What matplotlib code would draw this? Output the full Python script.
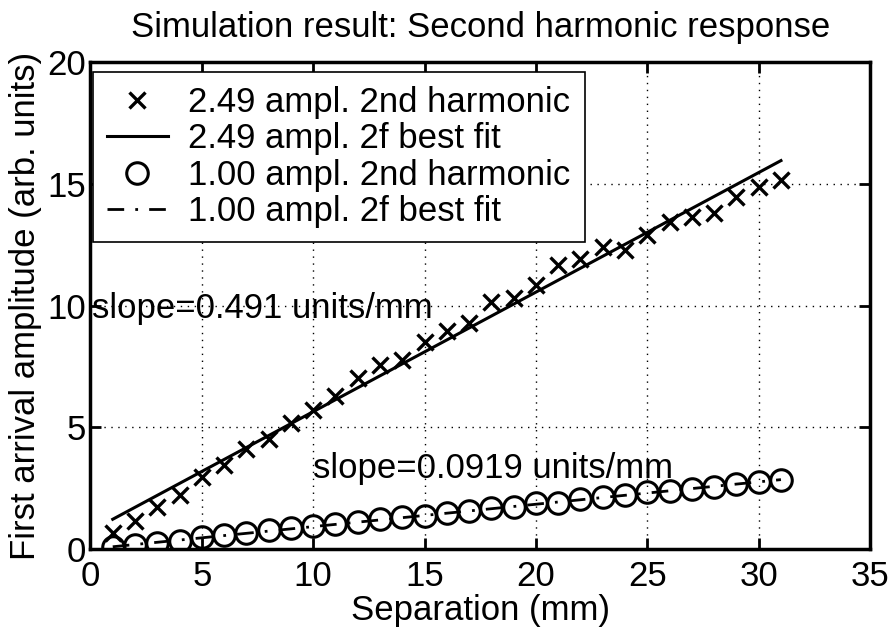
import numpy as np
import matplotlib.pyplot as plt

# separation (mm)
sep = np.arange(1, 32)

# 2.49 amplitude, second harmonic
amp_249 = [0.64, 1.16, 1.74, 2.22, 2.97, 3.45, 4.09, 4.50, 5.16, 5.71,
           6.30, 7.01, 7.56, 7.76, 8.51, 8.95, 9.30, 10.16, 10.30, 10.84,
           11.66, 11.90, 12.42, 12.28, 12.90, 13.44, 13.65, 13.79, 14.47, 14.85, 15.15]
# 1.00 amplitude, second harmonic
amp_100 = [0.09, 0.16, 0.23, 0.34, 0.51, 0.57, 0.67, 0.78, 0.85, 0.94,
           1.03, 1.12, 1.22, 1.30, 1.36, 1.47, 1.57, 1.67, 1.74, 1.88,
           1.90, 2.04, 2.15, 2.22, 2.35, 2.39, 2.45, 2.56, 2.67, 2.76, 2.83]

# best fit lines (slope, intercept)
fit_249 = (0.491, 0.73)
fit_100 = (0.0919, 0.0)
fit_x = np.array([1, 31])

plt.rcParams['font.family'] = ['Liberation Sans', 'DejaVu Sans']
fs = 25

fig = plt.figure(figsize=(8.93, 6.29), dpi=100)
ax = fig.add_axes([0.1013, 0.1272, 0.8730, 0.7742])

ax.plot(sep, amp_249, 'x', color='k', ms=11, mew=2.4, ls='none',
        label='2.49 ampl. 2nd harmonic')
ax.plot(fit_x, fit_249[0] * fit_x + fit_249[1], '-', color='k', lw=2.2,
        label='2.49 ampl. 2f best fit')
ax.plot(sep, amp_100, 'o', color='k', mfc='none', ms=15.5, mew=2.2, ls='none',
        label='1.00 ampl. 2nd harmonic')
ax.plot(fit_x, fit_100[0] * fit_x + fit_100[1], color='k', lw=2.0,
        ls=(0, (6, 4, 1, 4)), label='1.00 ampl. 2f best fit')

ax.text(0.05, 9.86, 'slope=0.491 units/mm', fontsize=fs, va='center', ha='left')
ax.text(10.0, 3.3, 'slope=0.0919 units/mm', fontsize=fs, va='center', ha='left')

ax.set_xlim(0, 35)
ax.set_ylim(0, 20)
ax.set_xticks(range(0, 36, 5))
ax.set_yticks(range(0, 21, 5))
ax.grid(True, color='k', ls=(0, (1, 4)), lw=1.0)
ax.tick_params(direction='in', length=8, width=2, top=True, right=True,
               labelsize=fs)
ax.tick_params(axis='x', pad=8)
ax.tick_params(axis='y', pad=3)
for s in ax.spines.values():
    s.set_linewidth(2.5)

ax.set_xlabel('Separation (mm)', fontsize=fs, labelpad=1)
ax.set_ylabel('First arrival amplitude (arb. units)', fontsize=fs, labelpad=4)
ax.set_title('Simulation result: Second harmonic response', fontsize=fs, pad=18)

leg = ax.legend(loc='upper left', bbox_to_anchor=(2.5 / 779.5, 1 - 10 / 487),
                borderaxespad=0, fontsize=fs, frameon=True, fancybox=False,
                edgecolor='k', framealpha=1, borderpad=0.4, labelspacing=0.1,
                handlelength=1.75, handletextpad=0.6)
leg.get_frame().set_linewidth(1.2)

fig.savefig('out.png', dpi=100)
